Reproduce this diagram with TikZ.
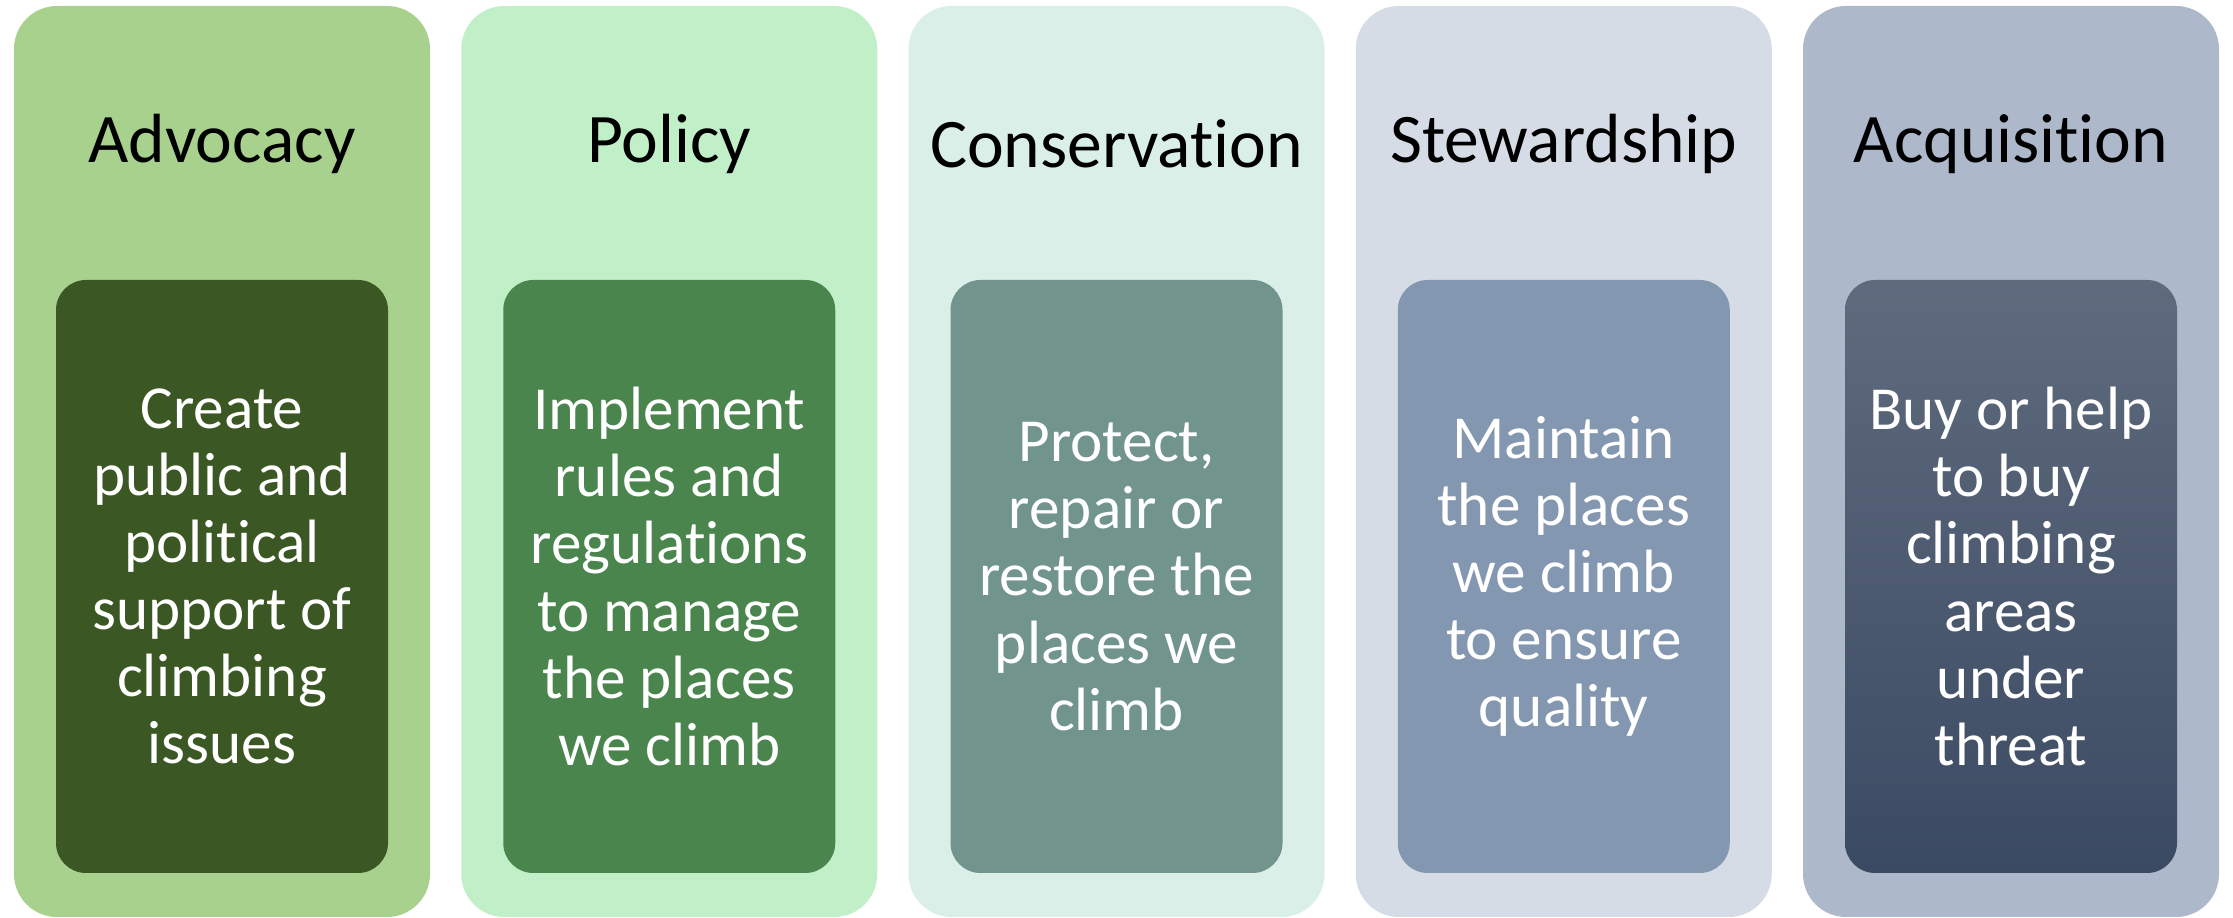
\documentclass[tikz,border=0pt]{standalone}
\usepackage{fontspec}
\setmainfont{Carlito}[Ligatures=NoCommon]
\usetikzlibrary{positioning}
\usepackage{xcolor}

\definecolor{outA}{HTML}{A9D18E}
\definecolor{outB}{HTML}{C1F0C8}
\definecolor{outC}{HTML}{DAEFE8}
\definecolor{outD}{HTML}{D6DCE5}
\definecolor{outE}{HTML}{ADB9CA}
\definecolor{inA}{HTML}{3B5723}
\definecolor{inB}{HTML}{4A854D}
\definecolor{inC}{HTML}{71948C}
\definecolor{inD}{HTML}{8497B0}
\definecolor{inEtop}{HTML}{5F6B7D}
\definecolor{inEbot}{HTML}{3B4A63}

\tikzset{
  column/.style={rounded corners=0.43cm, inner sep=0pt, outer sep=0pt, minimum width=4.16cm, minimum height=9.11cm},
  card/.style={rounded corners=0.3cm, inner sep=0pt, minimum width=3.32cm, minimum height=5.93cm,
    text=white, align=center, font=\fontsize{17.4}{19.1}\selectfont},
  heading/.style={font=\fontsize{19.8}{24}\selectfont, text=black}
}

\begin{document}
\begin{tikzpicture}[line cap=round,line join=round,x=1cm,y=1cm]
\useasboundingbox (0,0) rectangle (22.33,9.18);

% Columns
\node [column, fill=outA, anchor=south west] (advocacy) at (0.14,0.01) {};
\node [column, fill=outB, right=0.3125cm of advocacy] (policy) {};
\node [column, fill=outC, right=0.3125cm of policy] (conservation) {};
\node [column, fill=outD, right=0.3125cm of conservation] (stewardship) {};
\node [column, fill=outE, right=0.3125cm of stewardship] (acquisition) {};

% Headings
\node [heading, below=1.38cm of advocacy.north, anchor=center] (advocacyhead) {Advocacy};
\node [heading, below=1.38cm of policy.north, anchor=center] (policyhead) {Policy};
\node [heading, below=1.38cm of conservation.north, anchor=center] (conservationhead) {Conservation};
\node [heading, below=1.38cm of stewardship.north, anchor=center] (stewardshiphead) {Stewardship};
\node [heading, below=1.38cm of acquisition.north, anchor=center] (acquisitionhead) {Acquisition};

% Cards
\node [card, fill=inA, below=1.15cm of advocacy.center, anchor=center] (advocacycard)
  {Create\\public and\\political\\support of\\climbing\\issues};
\node [card, fill=inB, below=1.15cm of policy.center, anchor=center] (policycard)
  {Implement\\rules and\\regulations\\to manage\\the places\\we climb};
\node [card, fill=inC, below=1.15cm of conservation.center, anchor=center] (conservationcard)
  {Protect,\\repair or\\restore the\\places we\\climb};
\node [card, fill=inD, below=1.15cm of stewardship.center, anchor=center] (stewardshipcard)
  {Maintain\\the places\\we climb\\to ensure\\quality};
\node [card, top color=inEtop, bottom color=inEbot, below=1.15cm of acquisition.center, anchor=center] (acquisitioncard)
  {Buy or help\\to buy\\climbing\\areas\\under\\threat};
\end{tikzpicture}
\end{document}
